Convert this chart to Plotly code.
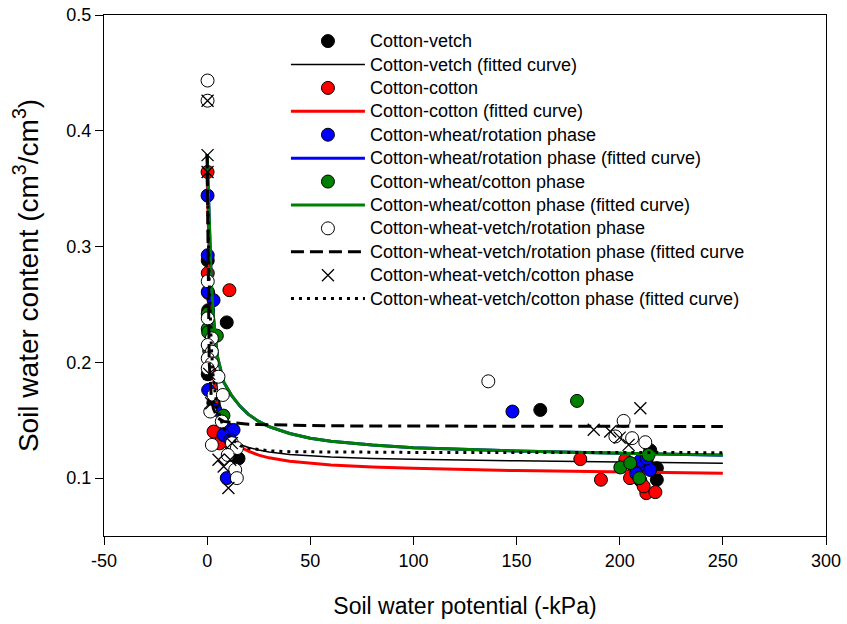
import plotly.graph_objects as go

# ---------------- data ----------------
cv_x = [0.3, 9.5, 0.3, 0.5, 1.0, 3.0, 10.0, 12.0, 15.2, 161.5, 214.8, 218.0, 218.0, 206.0, 210.0, 213.0]
cv_y = [0.288, 0.2345, 0.1897, 0.245, 0.19, 0.165, 0.135, 0.120, 0.117, 0.1589, 0.124, 0.1086, 0.0986, 0.1029, 0.098, 0.115]

cc_x = [0.2, 0.3, 10.8, 3.1, 0.5, 12.0, 6.0, 180.9, 190.9, 202.7, 212.9, 217.3, 211.6, 208.0, 205.0]
cc_y = [0.3644, 0.277, 0.2623, 0.1402, 0.26, 0.125, 0.130, 0.1164, 0.0986, 0.1158, 0.087, 0.0879, 0.0929, 0.108, 0.100]

cwr_x = [0.2, 0.3, 0.3, 3.1, 0.5, 3.9, 9.5, 12.8, 7.9, 11.2, 9.5, 148.0, 211.6, 214.8, 210.0, 213.0, 208.0]
cwr_y = [0.344, 0.2925, 0.261, 0.2537, 0.1761, 0.159, 0.143, 0.1416, 0.1373, 0.133, 0.100, 0.1575, 0.112, 0.107, 0.115, 0.117, 0.104]

cwc_x = [0.3, 0.3, 4.7, 7.9, 1.0, 0.5, 179.3, 200.3, 205.1, 209.5, 214.0]
cwc_y = [0.242, 0.229, 0.223, 0.154, 0.21, 0.226, 0.1667, 0.1092, 0.113, 0.100, 0.120]

cwvr_x = [0.2, 0.2, 0.3, 0.3, 2.3, 0.3, 2.3, 0.3, 2.3, 0.3, 5.5, 3.1, 7.6, 1.5, 7.1, 2.3, 12.0, 14.4, 13.6, 14.4, 10.0,
          136.3, 201.9, 197.9, 206.0, 212.4]
cwvr_y = [0.4434, 0.426, 0.270, 0.238, 0.2207, 0.215, 0.2092, 0.2034, 0.1991, 0.1948, 0.1876, 0.1718, 0.1718, 0.1575,
          0.1489, 0.1287, 0.1302, 0.1259, 0.1072, 0.100, 0.120,
          0.1836, 0.1494, 0.136, 0.1345, 0.131]

cwvc_x = [0.2, 0.2, 0.2, 2.0, 5.5, 11.2, 10.3, 12.0, 1.0, 8.0, 210.0, 187.4, 195.4, 204.3, 200.0]
cwvc_y = [0.426, 0.379, 0.3644, 0.1647, 0.1158, 0.1158, 0.0914, 0.1302, 0.19, 0.110, 0.1603, 0.1417, 0.1402, 0.1287, 0.135]

# fitted curves
fit_x = [0, 0.5, 1, 2, 3, 5, 8, 12, 16, 20, 25, 30, 40, 50, 60, 80, 100, 150, 200, 250]
fit_cv = [0.36, 0.33, 0.30, 0.25, 0.215, 0.175, 0.148, 0.135, 0.129, 0.1265, 0.1243, 0.1225, 0.1205, 0.1192, 0.1182,
          0.117, 0.1162, 0.115, 0.1138, 0.1128]
fit_cc = [0.36, 0.32, 0.28, 0.22, 0.19, 0.16, 0.142, 0.133, 0.127, 0.1232, 0.1198, 0.1175, 0.1145, 0.1127, 0.1113,
          0.1096, 0.1085, 0.1065, 0.1052, 0.1042]
fit_cwr = [0.38, 0.35, 0.32, 0.27, 0.24, 0.205, 0.183, 0.171, 0.162, 0.155, 0.149, 0.1445, 0.1385, 0.1345, 0.1318,
           0.1285, 0.1263, 0.1235, 0.1215, 0.1198]
fit_cwc = [0.38, 0.35, 0.32, 0.27, 0.24, 0.205, 0.183, 0.171, 0.162, 0.155, 0.149, 0.1445, 0.1385, 0.1345, 0.1318,
           0.1285, 0.1263, 0.1235, 0.1215, 0.1200]
fit_cwvr = [0.38, 0.24, 0.20, 0.17, 0.16, 0.152, 0.149, 0.148, 0.1472, 0.1465, 0.1462, 0.146, 0.1455, 0.1453, 0.1452,
            0.145, 0.145, 0.1448, 0.1447, 0.1446]
fit_cwvc = [0.37, 0.31, 0.27, 0.215, 0.185, 0.16, 0.143, 0.134, 0.128, 0.1258, 0.1245, 0.1236, 0.1228, 0.1226, 0.1225,
            0.1223, 0.1222, 0.1221, 0.122, 0.122]

x_ticks = [-50, 0, 50, 100, 150, 200, 250, 300]
x_tick_text = ["-50", "0", "50", "100", "150", "200", "250", "300"]
y_ticks = [0.1, 0.2, 0.3, 0.4, 0.5]
y_tick_text = ["0.1", "0.2", "0.3", "0.4", "0.5"]

# ---------------- figure ----------------
def lab(t):
    return '<span style="font-size:18px">' + t + '</span>'

MS = 13
fig = go.Figure()

def pts(x, y, name, fill):
    fig.add_trace(go.Scatter(x=x, y=y, mode="markers", name=lab(name),
                             marker=dict(symbol="circle", size=MS, color=fill,
                                         line=dict(color="black", width=1))))

def crv(y, name, color, width, dash="solid"):
    fig.add_trace(go.Scatter(x=fit_x, y=y, mode="lines", name=lab(name),
                             line=dict(color=color, width=width, dash=dash)))

pts(cv_x, cv_y, "Cotton-vetch", "black")
crv(fit_cv, "Cotton-vetch (fitted curve)", "black", 1.5)
pts(cc_x, cc_y, "Cotton-cotton", "#ff0000")
crv(fit_cc, "Cotton-cotton (fitted curve)", "#ff0000", 3)
pts(cwr_x, cwr_y, "Cotton-wheat/rotation phase", "#0000ff")
crv(fit_cwr, "Cotton-wheat/rotation phase (fitted curve)", "#0000ff", 3)
pts(cwc_x, cwc_y, "Cotton-wheat/cotton phase", "#008000")
crv(fit_cwc, "Cotton-wheat/cotton phase (fitted curve)", "#008000", 3)
pts(cwvr_x, cwvr_y, "Cotton-wheat-vetch/rotation phase", "white")
crv(fit_cwvr, "Cotton-wheat-vetch/rotation phase (fitted curve", "black", 3, "13px,6px")
fig.add_trace(go.Scatter(x=cwvc_x, y=cwvc_y, mode="markers", name=lab("Cotton-wheat-vetch/cotton phase"),
                         marker=dict(symbol="x-thin-open", size=12, color="black",
                                     line=dict(color="black", width=1.3))))
crv(fit_cwvc, "Cotton-wheat-vetch/cotton phase (fitted curve)", "black", 3, "3px,5px")

axis_common = dict(showline=True, linecolor="black", linewidth=1.3, mirror=True,
                   ticks="outside", ticklen=8, tickcolor="black", tickwidth=1.3,
                   showgrid=False, zeroline=False, automargin=False)

fig.update_layout(
    template="none",
    width=847, height=624,
    margin=dict(l=104, r=21, t=15, b=88),
    paper_bgcolor="white", plot_bgcolor="white",
    font=dict(family="Liberation Sans, Arial, sans-serif", color="black"),
    showlegend=True,
    legend=dict(x=0.252, xanchor="left", y=0.982, yanchor="top",
                bgcolor="rgba(0,0,0,0)", borderwidth=0, itemwidth=74,
                font=dict(size=15.7, color="black"), tracegroupgap=0),
    xaxis=dict(range=[-50, 300], tickvals=x_ticks, ticktext=x_tick_text, tickfont=dict(size=18),
               title=dict(text="Soil water potential (-kPa)", font=dict(size=23), standoff=28),
               **axis_common),
    yaxis=dict(range=[0.05, 0.5], tickvals=y_ticks, ticktext=y_tick_text, tickfont=dict(size=18),
               title=dict(text="Soil water content (cm<sup>3</sup>/cm<sup>3</sup>)", font=dict(size=28), standoff=19),
               **axis_common),
)

fig.write_html("out.html", config={"displayModeBar": False},
               post_script="document.body.style.margin='0';document.body.style.overflow='hidden';")
